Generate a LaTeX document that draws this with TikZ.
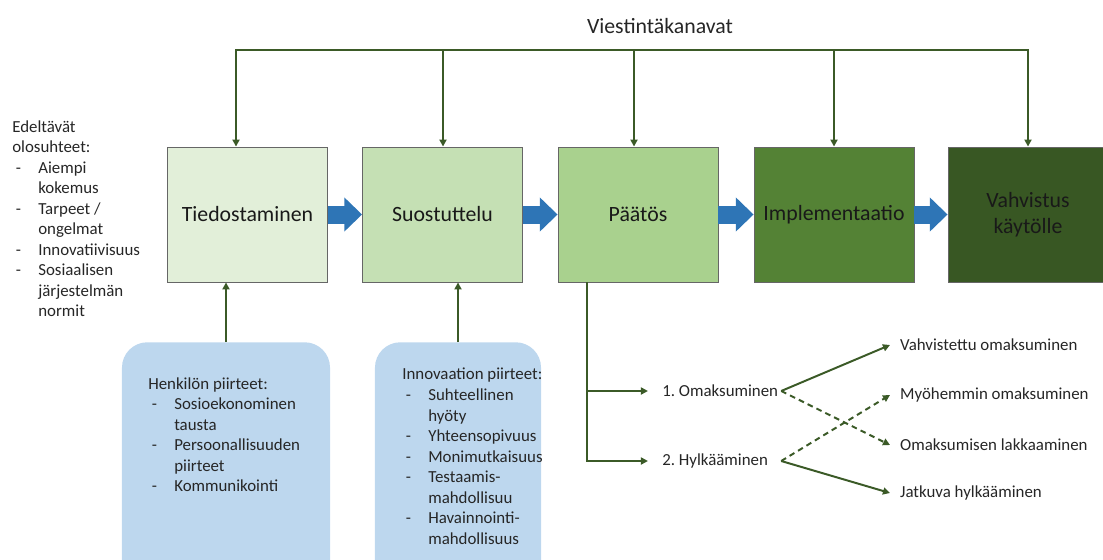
\documentclass[tikz,border=0pt]{standalone}
\usepackage{fontspec}
\setmainfont{Carlito}
\usetikzlibrary{arrows.meta,positioning}

\definecolor{stageA}{HTML}{E2EFD9}
\definecolor{stageB}{HTML}{C5E0B4}
\definecolor{stageC}{HTML}{A9D18E}
\definecolor{stageD}{HTML}{548235}
\definecolor{stageE}{HTML}{385723}
\definecolor{linegreen}{HTML}{3B5A27}
\definecolor{flowblue}{HTML}{2E75B6}
\definecolor{featblue}{HTML}{BDD7EE}
\definecolor{txt}{HTML}{262626}

\newcommand\dashitem[1]{\makebox[18.5pt][l]{\hspace{2.5pt}-}#1}
\newcommand\contitem[1]{\hspace*{18.5pt}#1}

\begin{document}
\begin{tikzpicture}[x=0.025cm, y=-0.025cm,
    stage/.style={draw=black!60, line width=0.6pt, minimum width=4cm, minimum height=3.375cm,
      inner sep=0pt, align=center, text=black!90, font=\fontsize{15.5}{18.9}\selectfont},
    flow/.style={draw=flowblue, line width=12.8pt, -{Triangle[length=12.6pt,width=23.5pt]}},
    chanline/.style={draw=linegreen, line width=1.4pt},
    chan/.style={chanline, -{Triangle[length=5pt,width=5pt]}},
    feat/.style={fill=featblue, rounded corners=18pt, minimum height=6.1cm, inner sep=0pt},
    txtblock/.style={align=left, inner sep=0pt, text=txt, font=\fontsize{12}{14.6}\selectfont},
    opt/.style={anchor=west, inner xsep=0pt, text=txt, font=\fontsize{12}{14.6}\selectfont},
    res/.style={anchor=west, inner xsep=7pt, text=txt, font=\fontsize{12}{14.6}\selectfont}]

  \useasboundingbox (0,0) rectangle (1103,559);
  \clip (0,0) rectangle (1103,559);

  % stages
  \node[stage, fill=stageA] (tied) at (247.5,214.5) {Tiedostaminen};
  \node[stage, fill=stageB] (suos) at (442.5,214.5) {Suostuttelu};
  \node[stage, fill=stageC] (paat) at (638,214.5) {Päätös};
  \node[stage, fill=stageD] (impl) at (834,214.5) {Implementaatio};
  \node[stage, fill=stageE] (vahv) at (1028,214.5) {Vahvistus\\käytölle};

  \draw[flow] (tied) -- (suos);
  \draw[flow] (suos) -- (paat);
  \draw[flow] (paat) -- (impl);
  \draw[flow] (impl) -- (vahv);

  % viestintakanavat
  \node[font=\fontsize{15.5}{18.9}\selectfont, text=txt] (kanavat) at (660,26) {Viestintäkanavat};
  \coordinate (c1) at (236,50);
  \coordinate (c2) at (443,50);
  \coordinate (c3) at (634,50);
  \coordinate (c4) at (834,50);
  \coordinate (c5) at (1028,50);
  \draw[chan] (c2) -- (c1) -- (c1 |- tied.north);
  \draw[chan] (c4) -- (c5) -- (c5 |- vahv.north);
  \draw[chanline] (c2) -- (c4);
  \foreach \c/\n in {c2/suos, c3/paat, c4/impl}
    \draw[chan] (\c) -- (\c |- \n.north);

  % edeltavat olosuhteet
  \node[txtblock, anchor=north west] (edel) at (12,120)
    {Edeltävät\\olosuhteet:\\\dashitem{Aiempi}\\\contitem{kokemus}\\\dashitem{Tarpeet /}\\
     \contitem{ongelmat}\\\dashitem{Innovatiivisuus}\\\dashitem{Sosiaalisen}\\
     \contitem{järjestelmän}\\\contitem{normit}};

  % piirteet
  \node[feat, minimum width=5.2cm, anchor=north] (henk) at (226,342) {};
  \node[feat, minimum width=4.15cm, anchor=north] (innov) at (458,342) {};
  \node[txtblock, anchor=north west] (henkl) at (148,377)
    {Henkilön piirteet:\\\dashitem{Sosioekonominen}\\\contitem{tausta}\\
     \dashitem{Persoonallisuuden}\\\contitem{piirteet}\\\dashitem{Kommunikointi}};
  \node[txtblock, anchor=north west] (innovl) at (402,368)
    {Innovaation piirteet:\\\dashitem{Suhteellinen}\\\contitem{hyöty}\\
     \dashitem{Yhteensopivuus}\\\dashitem{Monimutkaisuus}\\\dashitem{Testaamis-}\\
     \contitem{mahdollisuu}\\\dashitem{Havainnointi-}\\\contitem{mahdollisuus}};
  \draw[chan] (henk.north) -- (henk.north |- tied.south);
  \draw[chan] (innov.north) -- (innov.north |- suos.south);

  % paatos
  \node[opt] (omak) at (662,391) {1.\ Omaksuminen};
  \node[opt] (hylk) at (662,461) {2.\ Hylkääminen};
  \coordinate (stem) at (587,282);
  \draw[chan] (stem) |- ([xshift=-10pt]omak.west);
  \draw[chan] (stem) |- ([xshift=-10pt]hylk.west);

  \node[res] (vahvom) at (890,345) {Vahvistettu omaksuminen};
  \node[res] (myoh) at (890,395) {Myöhemmin omaksuminen};
  \node[res] (lakk) at (890,445) {Omaksumisen lakkaaminen};
  \node[res] (jatk) at (890,493) {Jatkuva hylkääminen};

  \draw[chan] ([xshift=2pt]omak.east) -- (vahvom.west);
  \draw[chan, dash pattern=on 4pt off 3pt] ([xshift=2pt]omak.east) -- (lakk.west);
  \draw[chan, dash pattern=on 4pt off 3pt] ([xshift=2pt]hylk.east -| omak.east) -- (myoh.west);
  \draw[chan] ([xshift=2pt]hylk.east -| omak.east) -- (jatk.west);
\end{tikzpicture}
\end{document}
